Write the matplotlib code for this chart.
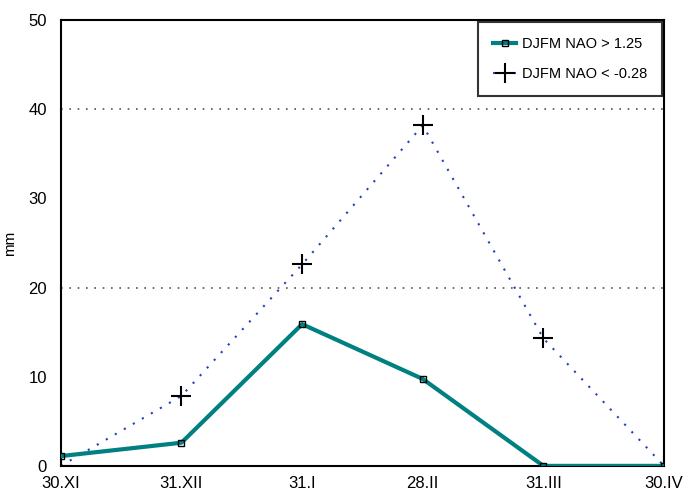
import matplotlib
matplotlib.use("Agg")
import matplotlib.pyplot as plt

dates = ["30.XI", "31.XII", "31.I", "28.II", "31.III", "30.IV"]
high_nao = [1.1, 2.6, 15.9, 9.75, 0.0, 0.0]
low_nao = [0.0, 7.85, 22.6, 38.2, 14.3, 0.0]
yticks = [0, 10, 20, 30, 40, 50]
grid_levels = [20, 40]
label_high = "DJFM NAO > 1.25"
label_low = "DJFM NAO < -0.28"

plt.rcParams['font.family'] = ['Liberation Sans', 'DejaVu Sans']

fig = plt.figure(figsize=(6.91, 4.93), dpi=100)
ax = fig.add_axes([0.088, 0.055, 0.873, 0.904])

x = list(range(len(dates)))

for g in grid_levels:
    ax.axhline(g, color='#555555', linestyle=(0, (1, 4)), linewidth=1.2, zorder=0)

ax.plot(x, high_nao, color='#008080', linewidth=3, marker='s', markersize=4,
        markerfacecolor='none', markeredgecolor='black', markeredgewidth=1,
        label=label_high, zorder=3)
ax.plot(x, low_nao, color='#2040c0', linestyle=(0, (1, 4)), linewidth=1.5,
        marker='+', markersize=14, markeredgecolor='black', markeredgewidth=1.5,
        label=label_low, zorder=2)

ax.set_xlim(0, len(dates) - 1)
ax.set_ylim(0, 50)
ax.set_xticks(x)
ax.set_xticklabels(dates, fontsize=12)
ax.set_yticks(yticks)
ax.set_yticklabels([str(v) for v in yticks], fontsize=12)
ax.tick_params(axis='x', length=0, pad=7)
ax.tick_params(axis='y', length=0, pad=10)
ax.set_ylabel("mm", fontsize=11, labelpad=8)

for s in ax.spines.values():
    s.set_linewidth(1.5)
    s.set_color('black')

leg = ax.legend(loc='upper right', fontsize=10.5, frameon=True, fancybox=False,
                edgecolor='black', handlelength=1.6, handletextpad=0.4,
                borderpad=1.0, labelspacing=1.1, borderaxespad=0.15)
leg.get_frame().set_linewidth(1.5)

fig.savefig("out.png", dpi=100)
